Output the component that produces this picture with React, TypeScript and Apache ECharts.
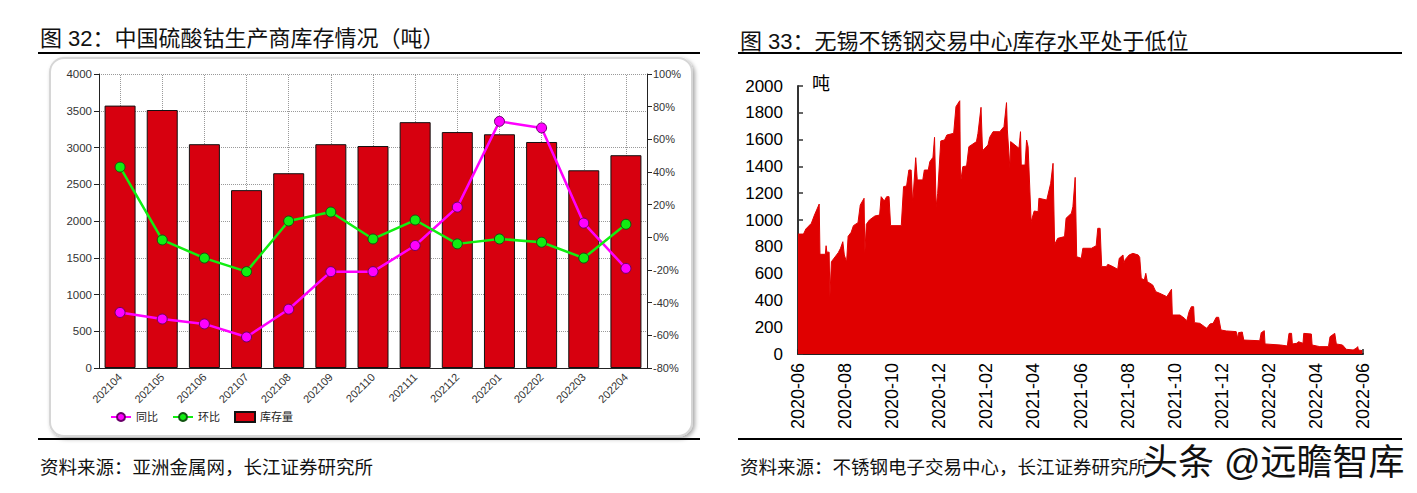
import React, { useEffect, useRef } from "react";
import * as echarts from "echarts";

// ---------- Left chart data (图 32) ----------
const months = ["202104", "202105", "202106", "202107", "202108", "202109", "202110", "202111", "202112", "202201", "202202", "202203", "202204"];
const inventory = [3570, 3510, 3045, 2420, 2650, 3045, 3020, 3345, 3210, 3180, 3075, 2690, 2895];
const yoy = [-46, -50, -53, -61, -44, -21, -21, -5, 18.5, 71, 67, 8.7, -19];
const mom = [43, -1.6, -12.7, -21, 10, 15.5, -1, 10.6, -4, -1, -3, -12.7, 8];
const leftTicks = { min: 0, max: 4000, interval: 500 };
const pctTicks = { min: -80, max: 100, interval: 20 };

// ---------- Right chart data (图 33) ----------
const stockDates = [
  "2020-06-01", "2020-06-08", "2020-06-11", "2020-06-18", "2020-06-22", "2020-06-28", "2020-06-29", "2020-07-06", "2020-07-07", "2020-07-08",
  "2020-07-11", "2020-07-12", "2020-07-14", "2020-07-23", "2020-07-26", "2020-07-29", "2020-07-31", "2020-08-03", "2020-08-05", "2020-08-09",
  "2020-08-12", "2020-08-18", "2020-08-21", "2020-08-26", "2020-08-27", "2020-08-29", "2020-09-02", "2020-09-09", "2020-09-15", "2020-09-17",
  "2020-09-21", "2020-09-24", "2020-09-27", "2020-09-29", "2020-10-13", "2020-10-16", "2020-10-20", "2020-10-23", "2020-10-26", "2020-10-28",
  "2020-11-01", "2020-11-03", "2020-11-10", "2020-11-12", "2020-11-17", "2020-11-19", "2020-11-23", "2020-11-25", "2020-11-27", "2020-11-29",
  "2020-12-03", "2020-12-08", "2020-12-11", "2020-12-20", "2020-12-23", "2020-12-28", "2020-12-29", "2021-01-01", "2021-01-06", "2021-01-09",
  "2021-01-19", "2021-01-21", "2021-01-25", "2021-01-27", "2021-02-03", "2021-02-05", "2021-02-09", "2021-02-17", "2021-02-22", "2021-02-25",
  "2021-02-26", "2021-03-01", "2021-03-02", "2021-03-13", "2021-03-15", "2021-03-16", "2021-03-21", "2021-03-23", "2021-03-25", "2021-03-29",
  "2021-04-02", "2021-04-07", "2021-04-08", "2021-04-18", "2021-04-23", "2021-04-26", "2021-04-28", "2021-05-02", "2021-05-11", "2021-05-13",
  "2021-05-20", "2021-05-22", "2021-05-25", "2021-05-27", "2021-06-02", "2021-06-04", "2021-06-15", "2021-06-21", "2021-06-23", "2021-06-26",
  "2021-06-28", "2021-07-04", "2021-07-06", "2021-07-11", "2021-07-19", "2021-07-21", "2021-07-26", "2021-07-27", "2021-07-29", "2021-08-03",
  "2021-08-08", "2021-08-15", "2021-08-17", "2021-08-19", "2021-08-23", "2021-08-25", "2021-08-27", "2021-09-03", "2021-09-07", "2021-09-12",
  "2021-09-21", "2021-09-27", "2021-09-28", "2021-10-08", "2021-10-14", "2021-10-17", "2021-10-20", "2021-10-23", "2021-10-26", "2021-10-27",
  "2021-11-03", "2021-11-09", "2021-11-12", "2021-11-16", "2021-11-20", "2021-11-24", "2021-11-27", "2021-11-30", "2021-12-07", "2021-12-20",
  "2021-12-22", "2021-12-23", "2021-12-28", "2021-12-30", "2022-01-20", "2022-01-22", "2022-01-26", "2022-01-27", "2022-02-15", "2022-02-23",
  "2022-02-25", "2022-02-28", "2022-03-01", "2022-03-07", "2022-03-09", "2022-03-15", "2022-03-16", "2022-03-26", "2022-03-27", "2022-04-06",
  "2022-04-17", "2022-04-19", "2022-04-25", "2022-04-27", "2022-05-05", "2022-05-10", "2022-05-19", "2022-05-23", "2022-05-25", "2022-05-26",
  "2022-05-31",
];
const stockValues = [
  895, 895, 933, 975, 1037, 1119, 744, 744, 808, 760,
  760, 428, 689, 756, 789, 838, 739, 686, 878, 908,
  958, 980, 1112, 1162, 752, 968, 1000, 1030, 1037, 1174,
  1142, 1174, 1174, 958, 958, 1249, 1254, 1373, 1373, 1124,
  1465, 1299, 1299, 1373, 1373, 1435, 1468, 1617, 1099, 1199,
  1590, 1597, 1634, 1647, 1846, 1890, 1276, 1398, 1403, 1547,
  1585, 1647, 1841, 1517, 1560, 1617, 1659, 1659, 1697, 1876,
  1672, 1386, 1585, 1535, 1659, 1410, 1410, 1597, 1547, 987,
  1067, 1062, 1162, 1149, 1274, 1423, 818, 863, 876, 1013,
  1050, 1099, 1318, 726, 714, 789, 789, 808, 938, 938,
  652, 652, 669, 657, 632, 714, 739, 677, 706, 739,
  751, 739, 721, 565, 552, 602, 540, 515, 465, 453,
  428, 483, 291, 291, 266, 249, 316, 353, 353, 234,
  229, 204, 192, 224, 229, 274, 274, 179, 172, 167,
  117, 159, 164, 104, 99, 159, 174, 75, 67, 60,
  154, 154, 75, 80, 92, 80, 154, 149, 67, 55,
  55, 129, 154, 75, 67, 35, 30, 42, 55, 30,
  25,
];
const stockTicks = { min: 0, max: 2000, interval: 200 };
const monthTicks = { min: 0, max: 24, interval: 2 }; // months since 2020-06

const FONT = "'Liberation Sans', Arial, 'Noto Sans CJK SC', sans-serif";

function monthOffset(d: string): number {
  const [y, m, day] = d.split("-").map(Number);
  const dim = new Date(y, m, 0).getDate();
  return (y - 2020) * 12 + (m - 6) + (day - 1) / dim;
}
function monthLabel(v: number): string {
  const idx = 5 + Math.round(v);
  const y = 2020 + Math.floor(idx / 12);
  const m = (idx % 12) + 1;
  return `${y}-${m < 10 ? "0" + m : m}`;
}
const plain = (v: number) => String(v);

export default function App() {
  const ref = useRef<HTMLDivElement>(null);
  useEffect(() => {
    if (!ref.current) return;
    const chart = echarts.init(ref.current, null, { renderer: "svg" });
    const option: any = {
      animation: false,
      backgroundColor: "#ffffff",
      textStyle: { fontFamily: FONT },
      grid: [
        { left: 99, right: 1417 - 647, top: 74, bottom: 493 - 368, containLabel: false },
        { left: 798, right: 1417 - 1363, top: 86, bottom: 493 - 354, containLabel: false },
      ],
      legend: {
        data: [
          { name: "同比" },
          { name: "环比" },
          { name: "库存量", icon: "rect" },
        ],
        left: 105,
        top: 406,
        itemWidth: 20,
        itemHeight: 10,
        itemGap: 14,
        textStyle: { fontSize: 11, color: "#222", fontFamily: FONT },
      },
      xAxis: [
        {
          type: "category",
          gridIndex: 0,
          data: months,
          axisLine: { lineStyle: { color: "#222", width: 1 } },
          axisTick: { alignWithLabel: true, length: 5, lineStyle: { color: "#222" } },
          axisLabel: { rotate: 45, fontSize: 11, color: "#333", margin: 7, fontFamily: FONT },
          splitLine: { show: false },
        },
        {
          type: "value",
          gridIndex: 1,
          min: monthTicks.min,
          max: monthTicks.max,
          interval: monthTicks.interval,
          axisLine: { show: true, lineStyle: { color: "#222", width: 2 } },
          axisTick: { show: true, inside: true, length: 5, lineStyle: { color: "#222", width: 1.5 } },
          axisLabel: { rotate: 90, fontSize: 18, color: "#000", margin: 9, fontFamily: FONT, formatter: (v: number) => monthLabel(v) },
          splitLine: { show: false },
        },
      ],
      yAxis: [
        {
          type: "value",
          gridIndex: 0,
          position: "left",
          min: leftTicks.min,
          max: leftTicks.max,
          interval: leftTicks.interval,
          axisLine: { show: true, lineStyle: { color: "#222", width: 1 } },
          axisTick: { show: true, length: 5, lineStyle: { color: "#222" } },
          axisLabel: { fontSize: 11.5, color: "#333", margin: 7, fontFamily: FONT, formatter: plain },
          splitLine: { show: true, lineStyle: { type: "dotted", color: "#999", width: 1 } },
        },
        {
          type: "value",
          gridIndex: 0,
          position: "right",
          min: pctTicks.min,
          max: pctTicks.max,
          interval: pctTicks.interval,
          axisLine: { show: true, lineStyle: { color: "#222", width: 1 } },
          axisTick: { show: true, length: 5, lineStyle: { color: "#222" } },
          axisLabel: { fontSize: 11, color: "#333", margin: 6, formatter: "{value}%", fontFamily: FONT },
          splitLine: { show: false },
        },
        {
          type: "value",
          gridIndex: 1,
          min: stockTicks.min,
          max: stockTicks.max,
          interval: stockTicks.interval,
          axisLine: { show: true, lineStyle: { color: "#333", width: 2 } },
          axisTick: { show: true, inside: true, length: 5, lineStyle: { color: "#333", width: 1.5 } },
          axisLabel: { fontSize: 17, color: "#000", margin: 15, fontFamily: FONT, formatter: plain },
          splitLine: { show: false },
        },
      ],
      series: [
        {
          name: "库存量",
          type: "bar",
          xAxisIndex: 0,
          yAxisIndex: 0,
          data: inventory,
          barWidth: 31,
          itemStyle: { color: "#D7000F", borderColor: "#111", borderWidth: 1 },
          markLine: {
            z: 1,
            silent: true,
            symbol: "none",
            label: { show: false },
            lineStyle: { type: "dotted", color: "#999", width: 1 },
            data: months.map((m) => ({ xAxis: m })),
          },
        },
        {
          name: "同比",
          type: "line",
          xAxisIndex: 0,
          yAxisIndex: 1,
          data: yoy,
          z: 4,
          symbol: "circle",
          symbolSize: 10,
          lineStyle: { color: "#FF00FF", width: 2.5 },
          itemStyle: { color: "#FF00FF", borderColor: "#6a006a", borderWidth: 1 },
        },
        {
          name: "环比",
          type: "line",
          xAxisIndex: 0,
          yAxisIndex: 1,
          data: mom,
          z: 4,
          symbol: "circle",
          symbolSize: 10,
          lineStyle: { color: "#11EE11", width: 2.5 },
          itemStyle: { color: "#11EE11", borderColor: "#115511", borderWidth: 1 },
        },
        {
          name: "库存",
          type: "line",
          xAxisIndex: 1,
          yAxisIndex: 2,
          data: stockDates.map((d, i) => [monthOffset(d), stockValues[i]]),
          symbol: "none",
          lineStyle: { color: "#E00000", width: 1 },
          areaStyle: { color: "#E00000", opacity: 1 },
        },
      ],
      graphic: [
        {
          type: "rect",
          z: -1,
          shape: { x: 50, y: 58, width: 642, height: 378, r: 14 },
          style: { fill: "#ffffff", stroke: "#d6d6d6", lineWidth: 2, shadowBlur: 4, shadowOffsetX: 2, shadowOffsetY: 2, shadowColor: "rgba(0,0,0,0.35)" },
        },
        { type: "text", x: 40, y: 38, style: { text: "图 32：中国硫酸钴生产商库存情况（吨）", font: `22px ${FONT}`, fill: "#111", verticalAlign: "middle" } },
        { type: "text", x: 740, y: 41, style: { text: "图 33：无锡不锈钢交易中心库存水平处于低位", font: `22px ${FONT}`, fill: "#111", verticalAlign: "middle" } },
        { type: "line", shape: { x1: 38, y1: 53, x2: 700, y2: 53 }, style: { stroke: "#000", lineWidth: 2 } },
        { type: "line", shape: { x1: 738, y1: 53, x2: 1402, y2: 53 }, style: { stroke: "#000", lineWidth: 2 } },
        { type: "line", shape: { x1: 38, y1: 439, x2: 700, y2: 439 }, style: { stroke: "#000", lineWidth: 2 } },
        { type: "line", shape: { x1: 738, y1: 439, x2: 1402, y2: 439 }, style: { stroke: "#000", lineWidth: 2 } },
        { type: "text", x: 812, y: 84, style: { text: "吨", font: `18px ${FONT}`, fill: "#000", verticalAlign: "middle" } },
        { type: "text", x: 40, y: 467, style: { text: "资料来源：亚洲金属网，长江证券研究所", font: `18.5px ${FONT}`, fill: "#111", verticalAlign: "middle" } },
        { type: "text", x: 740, y: 467, style: { text: "资料来源：不锈钢电子交易中心，长江证券研究所", font: `18.5px ${FONT}`, fill: "#111", verticalAlign: "middle" } },
        {
          type: "text",
          x: 1142,
          y: 462,
          z: 10,
          style: {
            text: "头条 @远瞻智库",
            font: `36px ${FONT}`,
            fill: "#111",
            stroke: "#ffffff",
            lineWidth: 3,
            verticalAlign: "middle",
          },
        },
      ],
    };
    chart.setOption(option);
    return () => chart.dispose();
  }, []);
  return <div ref={ref} style={{ position: "absolute", left: 0, top: 0, width: 1417, height: 493, background: "#fff" }} />;
}
